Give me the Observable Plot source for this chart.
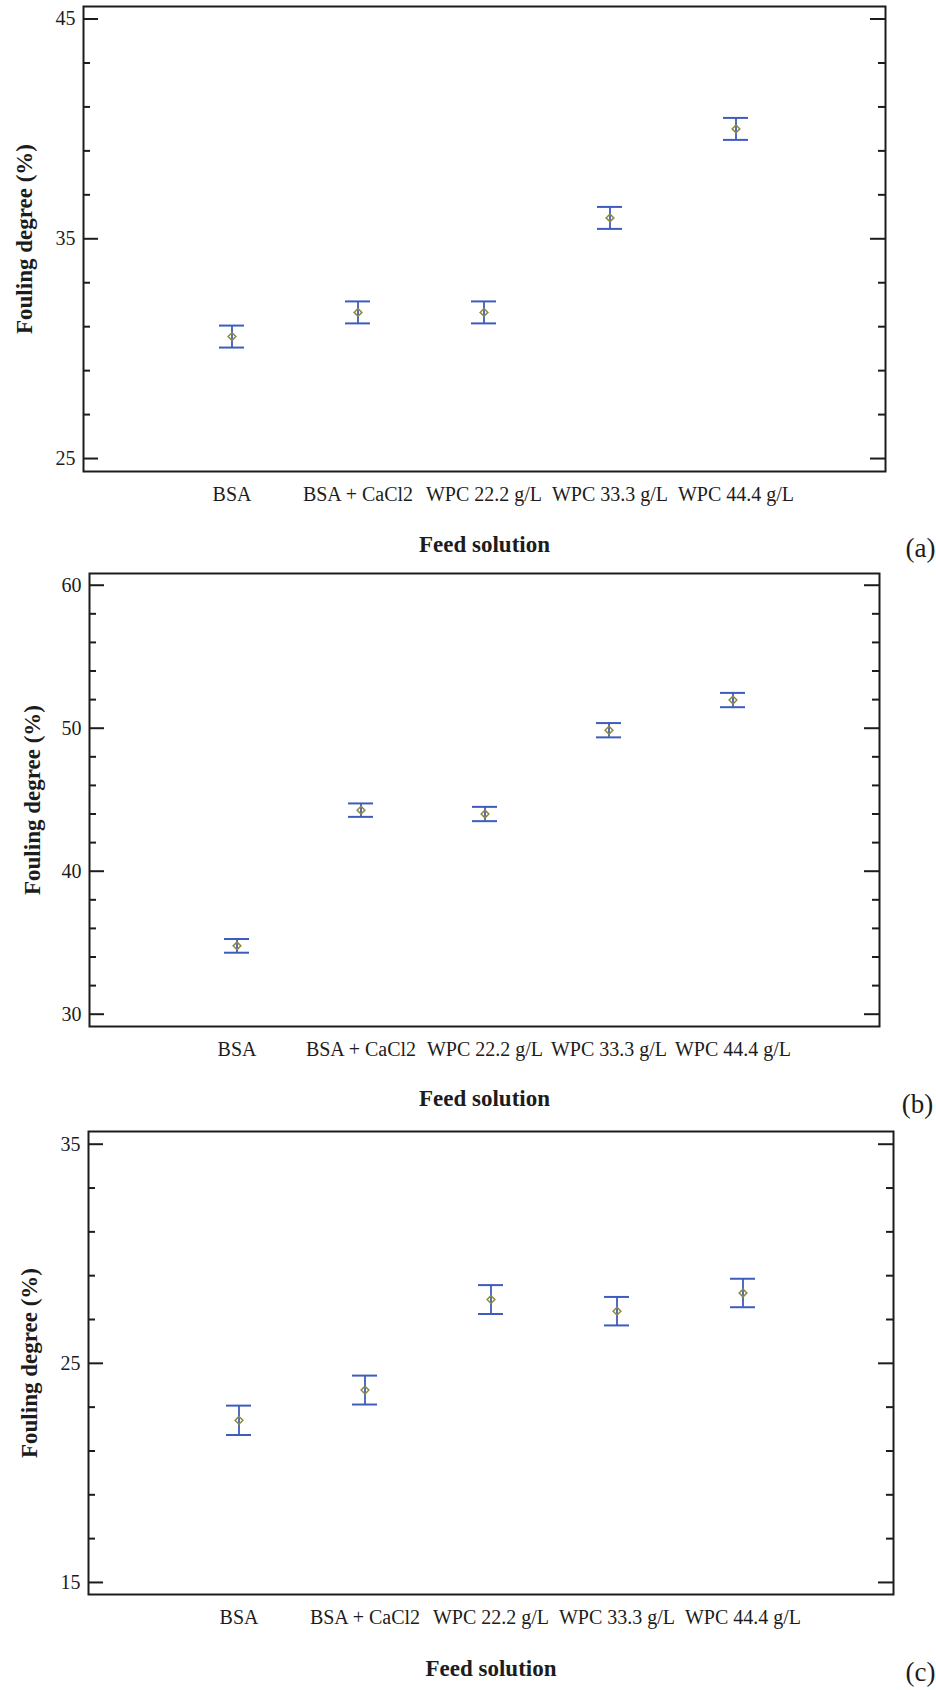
<!DOCTYPE html>
<html>
<head>
<meta charset="utf-8">
<script src="https://cdn.jsdelivr.net/npm/d3@7"></script>
<script src="https://cdn.jsdelivr.net/npm/@observablehq/plot@0.6"></script>
<style>
  html, body { margin: 0; padding: 0; background: #fff; }
  #chart { width: 936px; }
  #chart svg { display: block; }
</style>
</head>
<body>
<div id="chart"></div>
<script>
// ---- Data ----
const feedSolutions = ["BSA", "BSA + CaCl2", "WPC 22.2 g/L", "WPC 33.3 g/L", "WPC 44.4 g/L"];

// Panel (a)
const meansA = [30.55, 31.65, 31.65, 35.95, 40.0];
const errA   = [0.50, 0.50, 0.50, 0.50, 0.50];
const majorTicksA = [45, 35, 25];
const minorTicksA = [43, 41, 39, 37, 33, 31, 29, 27];
const domainA = [24.41, 45.57];

// Panel (b)
const meansB = [34.78, 44.27, 44.0, 49.86, 51.97];
const errB   = [0.48, 0.47, 0.50, 0.50, 0.50];
const majorTicksB = [60, 50, 40, 30];
const minorTicksB = [58, 56, 54, 52, 48, 46, 44, 42, 38, 36, 34, 32];
const domainB = [29.14, 60.82];

// Panel (c)
const meansC = [22.40, 23.78, 27.91, 27.38, 28.21];
const errC   = [0.67, 0.66, 0.66, 0.65, 0.65];
const majorTicksC = [35, 25, 15];
const minorTicksC = [33, 31, 29, 27, 23, 21, 19, 17];
const domainC = [14.45, 35.58];

const xTitle = "Feed solution";
const yTitle = "Fouling degree (%)";
const panelLetters = ["(a)", "(b)", "(c)"];

// ---- Layout / style ----
const W = 936;
const barBlue = "#3d5cbd";
const olive = "#8e8a3c";
const ink = "#1c1c1c";
const fontFamily = "'Liberation Serif', 'Times New Roman', Times, serif";

const panels = [
  {letter: panelLetters[0], means: meansA, errs: errA, major: majorTicksA, minor: minorTicksA, domain: domainA,
   height: 568, mt: 6, mb: 97, ml: 83, mr: 51, titleDy: 73, letterDx: 35, letterDy: 77, yDx: -59},
  {letter: panelLetters[1], means: meansB, errs: errB, major: majorTicksB, minor: minorTicksB, domain: domainB,
   height: 556, mt: 5, mb: 98, ml: 89, mr: 57, titleDy: 72, letterDx: 38, letterDy: 78, yDx: -57},
  {letter: panelLetters[2], means: meansC, errs: errC, major: majorTicksC, minor: minorTicksC, domain: domainC,
   height: 566, mt: 7, mb: 96, ml: 88, mr: 43, titleDy: 74, letterDx: 27, letterDy: 78, yDx: -59}
];

const chart = document.getElementById("chart");

for (const p of panels) {
  const rows = feedSolutions.map((f, i) => ({
    feed: f, mean: p.means[i], lo: p.means[i] - p.errs[i], hi: p.means[i] + p.errs[i]
  }));
  const innerW = W - p.ml - p.mr;
  const svg = Plot.plot({
    width: W,
    height: p.height,
    marginTop: p.mt,
    marginBottom: p.mb,
    marginLeft: p.ml,
    marginRight: p.mr,
    style: {fontFamily, fontSize: "20px", color: ink, background: "#fff", overflow: "visible"},
    x: {type: "band", domain: feedSolutions, paddingInner: 0.8, paddingOuter: 1.08, align: 0.5, label: null},
    y: {domain: p.domain, label: null},
    marks: [
      // inward ticks on both sides
      Plot.tickY(p.major, {y: d => d, insetRight: innerW - 15, stroke: ink, strokeWidth: 2}),
      Plot.tickY(p.major, {y: d => d, insetLeft: innerW - 15, stroke: ink, strokeWidth: 2}),
      Plot.tickY(p.minor, {y: d => d, insetRight: innerW - 7, stroke: ink, strokeWidth: 2}),
      Plot.tickY(p.minor, {y: d => d, insetLeft: innerW - 7, stroke: ink, strokeWidth: 2}),
      Plot.frame({stroke: ink, strokeWidth: 2}),
      Plot.axisY({ticks: p.major, tickSize: 0, tickPadding: 8, fontSize: 20, label: null}),
      Plot.axisX({tickSize: 0, tickPadding: 15, fontSize: 20, label: null}),
      // error bars
      Plot.ruleX(rows, {x: "feed", y1: "lo", y2: "hi", stroke: barBlue, strokeWidth: 1.8}),
      Plot.tickY(rows, {x: "feed", y: "lo", stroke: barBlue, strokeWidth: 2}),
      Plot.tickY(rows, {x: "feed", y: "hi", stroke: barBlue, strokeWidth: 2}),
      // means
      Plot.dot(rows, {x: "feed", y: "mean", symbol: "diamond2", r: 3.5, stroke: olive, strokeWidth: 1.5, fill: "none"}),
      // titles
      Plot.text([xTitle], {text: d => d, frameAnchor: "bottom", dy: p.titleDy, fontSize: 23, fontWeight: "bold",
        textAnchor: "middle", lineAnchor: "middle", fill: ink}),
      Plot.text([yTitle], {text: d => d, frameAnchor: "left", dx: p.yDx, rotate: -90, fontSize: 23, fontWeight: "bold",
        textAnchor: "middle", lineAnchor: "middle", fill: ink}),
      Plot.text([p.letter], {text: d => d, frameAnchor: "bottom-right", dx: p.letterDx, dy: p.letterDy, fontSize: 27,
        textAnchor: "middle", lineAnchor: "middle", fill: ink})
    ]
  });
  chart.appendChild(svg);
}
</script>
</body>
</html>
